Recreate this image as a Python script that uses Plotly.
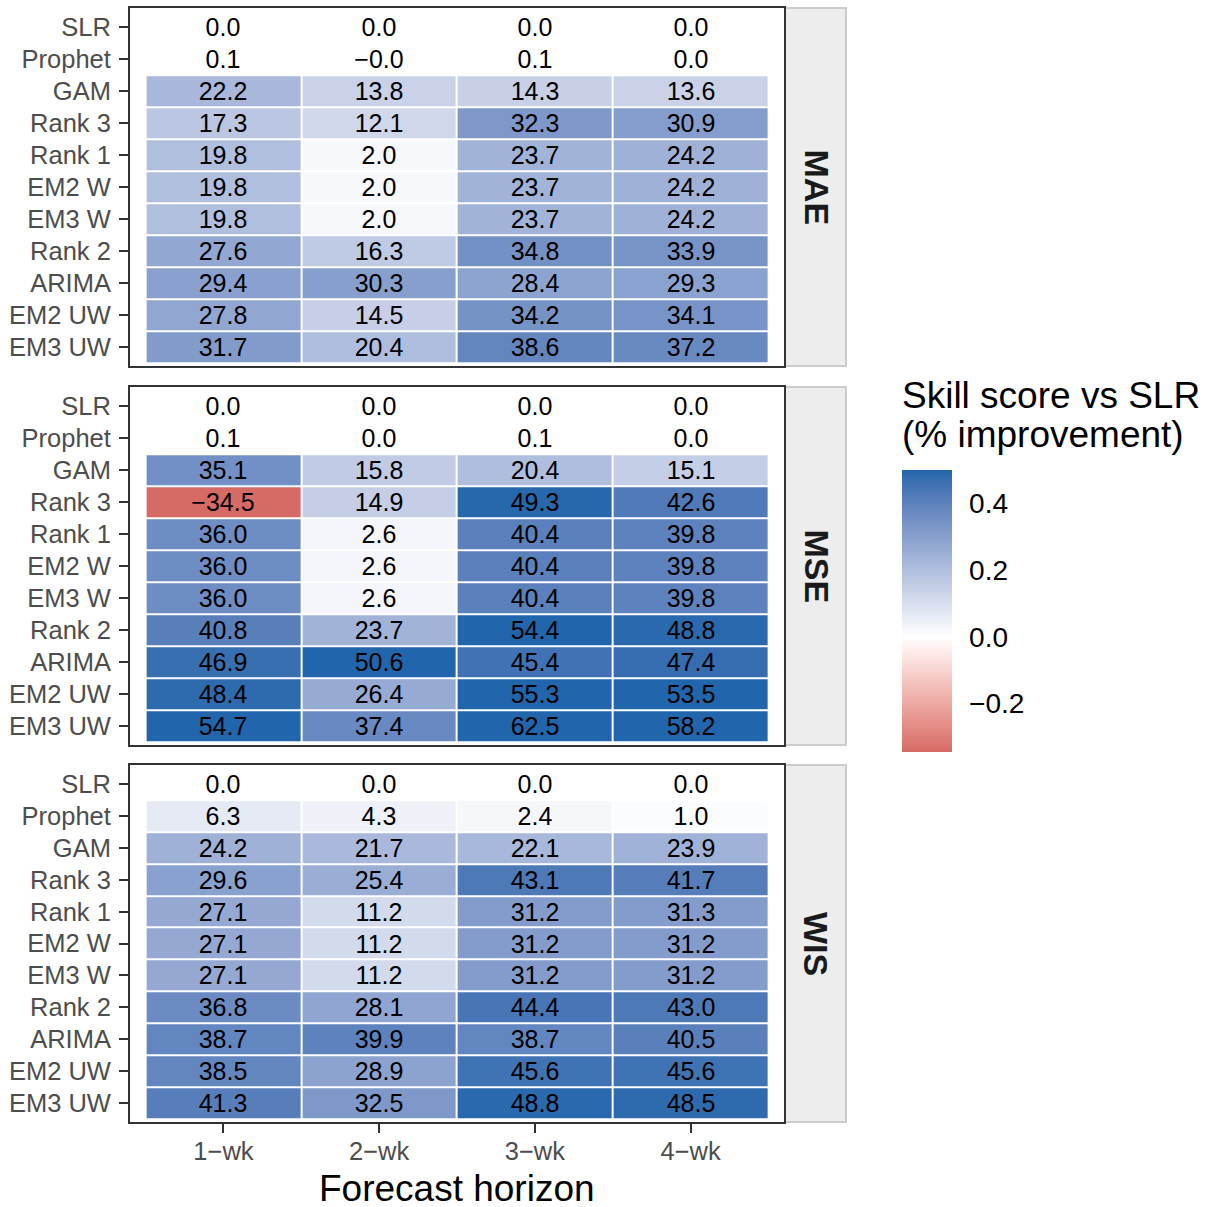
import numpy as np
import plotly.graph_objects as go

# ---------------- data ----------------
horizons = ["1\u2212wk", "2\u2212wk", "3\u2212wk", "4\u2212wk"]
models = ["SLR", "Prophet", "GAM", "Rank 3", "Rank 1", "EM2 W", "EM3 W",
          "Rank 2", "ARIMA", "EM2 UW", "EM3 UW"]
metrics = ["MAE", "MSE", "WIS"]

mae = [
    [0.0, 0.0, 0.0, 0.0],
    [0.1, -0.01, 0.1, 0.0],
    [22.2, 13.8, 14.3, 13.6],
    [17.3, 12.1, 32.3, 30.9],
    [19.8, 2.0, 23.7, 24.2],
    [19.8, 2.0, 23.7, 24.2],
    [19.8, 2.0, 23.7, 24.2],
    [27.6, 16.3, 34.8, 33.9],
    [29.4, 30.3, 28.4, 29.3],
    [27.8, 14.5, 34.2, 34.1],
    [31.7, 20.4, 38.6, 37.2],
]
mse = [
    [0.0, 0.0, 0.0, 0.0],
    [0.1, 0.0, 0.1, 0.0],
    [35.1, 15.8, 20.4, 15.1],
    [-34.5, 14.9, 49.3, 42.6],
    [36.0, 2.6, 40.4, 39.8],
    [36.0, 2.6, 40.4, 39.8],
    [36.0, 2.6, 40.4, 39.8],
    [40.8, 23.7, 54.4, 48.8],
    [46.9, 50.6, 45.4, 47.4],
    [48.4, 26.4, 55.3, 53.5],
    [54.7, 37.4, 62.5, 58.2],
]
wis = [
    [0.0, 0.0, 0.0, 0.0],
    [6.3, 4.3, 2.4, 1.0],
    [24.2, 21.7, 22.1, 23.9],
    [29.6, 25.4, 43.1, 41.7],
    [27.1, 11.2, 31.2, 31.3],
    [27.1, 11.2, 31.2, 31.2],
    [27.1, 11.2, 31.2, 31.2],
    [36.8, 28.1, 44.4, 43.0],
    [38.7, 39.9, 38.7, 40.5],
    [38.5, 28.9, 45.6, 45.6],
    [41.3, 32.5, 48.8, 48.5],
]
panels = [mae, mse, wis]

cb_ticks = [-0.2, 0.0, 0.2, 0.4]
CMIN, CMAX = -0.345, 0.5

# ---------------- colour scale (CIELAB interpolation like ggplot) ----------------
def srgb_to_lab(rgb):
    c = np.array(rgb, dtype=float) / 255.0
    c = np.where(c <= 0.04045, c / 12.92, ((c + 0.055) / 1.055) ** 2.4)
    M = np.array([[0.4124, 0.3576, 0.1805],
                  [0.2126, 0.7152, 0.0722],
                  [0.0193, 0.1192, 0.9505]])
    xyz = M @ c
    wp = np.array([0.95047, 1.0, 1.08883])
    t = xyz / wp
    f = np.where(t > 216 / 24389, np.cbrt(t), (24389 / 27 * t + 16) / 116)
    return np.array([116 * f[1] - 16, 500 * (f[0] - f[1]), 200 * (f[1] - f[2])])

def lab_to_srgb(lab):
    L, a, b = lab
    fy = (L + 16) / 116
    fx = fy + a / 500
    fz = fy - b / 200
    def finv(f):
        return f ** 3 if f ** 3 > 216 / 24389 else (116 * f - 16) / (24389 / 27)
    wp = np.array([0.95047, 1.0, 1.08883])
    xyz = np.array([finv(fx), finv(fy), finv(fz)]) * wp
    Minv = np.array([[3.2406, -1.5372, -0.4986],
                     [-0.9689, 1.8758, 0.0415],
                     [0.0557, -0.2040, 1.0570]])
    c = Minv @ xyz
    c = np.clip(c, 0, 1)
    c = np.where(c <= 0.0031308, 12.92 * c, 1.055 * c ** (1 / 2.4) - 0.055)
    return tuple(int(round(v * 255)) for v in np.clip(c, 0, 1))

low_rgb = (214, 106, 101)
high_rgb = (33, 102, 172)
mid_rgb = (255, 255, 255)
L_low, L_mid, L_high = srgb_to_lab(low_rgb), srgb_to_lab(mid_rgb), srgb_to_lab(high_rgb)
p_mid = (0 - CMIN) / (CMAX - CMIN)
colorscale = []
n = 24
for i in range(n + 1):
    t = i / n
    rgb = lab_to_srgb(L_low + (L_mid - L_low) * t)
    colorscale.append([p_mid * t, "rgb(%d,%d,%d)" % rgb])
for i in range(1, n + 1):
    t = i / n
    rgb = lab_to_srgb(L_mid + (L_high - L_mid) * t)
    colorscale.append([p_mid + (1 - p_mid) * t, "rgb(%d,%d,%d)" % rgb])
colorscale[-1][0] = 1.0

# ---------------- layout geometry ----------------
W, H = 1212, 1207
def px(x):
    return x / W
def py(y):
    return 1 - y / H

panel_x = (130, 784)
panel_y = [(8, 366), (387, 745), (765, 1122)]
strip_x = (785, 846)

FONT = "Liberation Sans"
TICKFONT = dict(family=FONT, size=25.5, color="#4D4D4D")
fig = go.Figure()

for k, (name, vals) in enumerate(zip(metrics, panels)):
    arr = np.array(vals, dtype=float)
    text = [[("%.1f" % v).replace("-", "\u2212") for v in row] for row in vals]
    sfx = "" if k == 0 else str(k + 1)
    fig.add_trace(go.Heatmap(
        z=arr / 100.0,
        x=list(range(len(horizons))),
        y=list(range(len(models))),
        text=text,
        texttemplate="%{text}",
        textfont=dict(family=FONT, size=25, color="black"),
        coloraxis="coloraxis",
        xgap=2, ygap=2,
        hoverinfo="skip",
        xaxis="x" + sfx, yaxis="y" + sfx,
    ))
    y0, y1 = panel_y[k]
    xa = dict(
        domain=[px(panel_x[0]), px(panel_x[1])],
        range=[-0.6, len(horizons) - 0.4],
        tickvals=list(range(len(horizons))), ticktext=horizons,
        showgrid=False, zeroline=False,
        showline=True, mirror=True, linecolor="#333333", linewidth=2,
        anchor="y" + sfx,
        tickfont=TICKFONT,
    )
    if k == 2:
        xa.update(ticks="outside", ticklen=9, tickwidth=2, tickcolor="#333333",
                  showticklabels=True, ticklabelstandoff=-4)
    else:
        xa.update(ticks="", showticklabels=False)
    ya = dict(
        domain=[py(y1), py(y0)],
        range=[len(models) - 0.4, -0.6],
        tickvals=list(range(len(models))), ticktext=models,
        showgrid=False, zeroline=False,
        showline=True, mirror=True, linecolor="#333333", linewidth=2,
        ticks="outside", ticklen=9, tickwidth=2, tickcolor="#333333",
        ticklabelstandoff=3,
        tickfont=TICKFONT,
        anchor="x" + sfx,
    )
    fig.layout["xaxis" + sfx] = xa
    fig.layout["yaxis" + sfx] = ya

    # facet strip
    fig.add_shape(type="rect", xref="paper", yref="paper",
                  x0=px(strip_x[0]), x1=px(strip_x[1]), y0=py(y1), y1=py(y0),
                  fillcolor="#EDEDED", line=dict(color="#CCCCCC", width=2), layer="below")
    fig.add_annotation(x=px((strip_x[0] + strip_x[1]) / 2 + 1), y=py((y0 + y1) / 2),
                       xref="paper", yref="paper", text="<b>%s</b>" % name,
                       textangle=90, showarrow=False, xanchor="center", yanchor="middle",
                       font=dict(family=FONT, size=34, color="#1A1A1A"))

# axis title
fig.add_annotation(x=px((panel_x[0] + panel_x[1]) / 2), y=py(1188), xref="paper", yref="paper",
                   text="Forecast horizon", showarrow=False, xanchor="center", yanchor="middle",
                   height=36, borderpad=0,
                   font=dict(family=FONT, size=37, color="black"))

# legend title (two lines)
for line, yc in [("Skill score vs SLR", 396), ("(% improvement)", 434)]:
    fig.add_annotation(x=px(900), y=py(yc), xref="paper", yref="paper",
                       xanchor="left", yanchor="middle",
                       text=line, showarrow=False, align="left",
                       font=dict(family=FONT, size=37, color="black"))

cb_top, cb_bot, cb_left, cb_w = 470, 752, 902, 50
fig.update_layout(
    width=W, height=H,
    margin=dict(l=0, r=0, t=0, b=0),
    paper_bgcolor="white", plot_bgcolor="white",
    font=dict(family=FONT),
    coloraxis=dict(
        cmin=CMIN, cmax=CMAX, colorscale=colorscale,
        colorbar=dict(
            x=px(cb_left), xanchor="left", xref="paper",
            y=py((cb_top + cb_bot) / 2), yanchor="middle", yref="paper",
            len=cb_bot - cb_top, lenmode="pixels",
            thickness=cb_w, thicknessmode="pixels",
            xpad=0, ypad=0,
            tickvals=cb_ticks,
            ticktext=[("%.1f" % v).replace("-", "\u2212") for v in cb_ticks],
            ticks="outside", ticklen=12, tickwidth=1, tickcolor="white",
            outlinewidth=0,
            tickfont=dict(family=FONT, size=28, color="black"),
            title=dict(text=""),
        ),
    ),
)

# white tick marks on both edges of the colour bar (as ggplot draws them)
for v in cb_ticks:
    yy = cb_bot - (v - CMIN) / (CMAX - CMIN) * (cb_bot - cb_top)
    for xa0, xa1 in [(cb_left, cb_left + 10), (cb_left + cb_w - 10, cb_left + cb_w)]:
        fig.add_shape(type="line", xref="paper", yref="paper",
                      x0=px(xa0), x1=px(xa1), y0=py(yy), y1=py(yy),
                      line=dict(color="white", width=1), layer="above")

fig.write_html("out.html", config={"displayModeBar": False},
               post_script="document.body.style.margin='0';document.body.style.overflow='hidden';")
